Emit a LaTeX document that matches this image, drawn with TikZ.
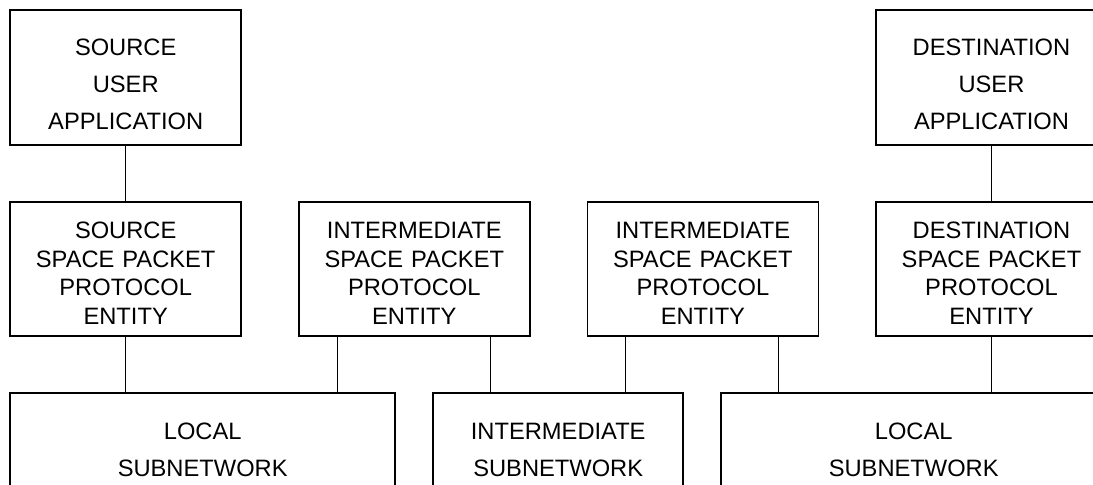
\documentclass[tikz,border=0pt]{standalone}
\usepackage{fontspec}
\setmainfont{Liberation Sans}
\usepackage{tikz}
\usetikzlibrary{positioning}

\begin{document}
\begin{tikzpicture}[auto,
block_app/.style ={rectangle, draw=black, line width=0.8pt, fill=white, text width=110pt, align=center, minimum width=115.5pt, minimum height=67.5pt, inner sep=0pt, text height=15.15pt, font=\fontsize{11.85pt}{18.5pt}\selectfont},
block_spp/.style ={rectangle, draw=black, line width=0.8pt, fill=white, text width=110pt, align=center, minimum width=115.5pt, minimum height=67pt, inner sep=0pt, text height=12.55pt, font=\fontsize{11.85pt}{14.25pt}\selectfont},
block_net/.style ={rectangle, draw=black, line width=0.8pt, fill=white, text width=110pt, align=center, minimum height=56.5pt, inner sep=0pt, font=\fontsize{11.85pt}{18.5pt}\selectfont},
line/.style ={draw, line width=0.5pt}]
  \useasboundingbox (0,0) rectangle (546.5pt,242.5pt);
  % the user applications and the packet protocol entities in a matrix
    \matrix [column sep=28pt, row sep=27.7pt, inner sep=0pt, matrix anchor=north west] at (4.5pt,238pt) {
     % user applications - row 1
      \node [block_app] (src_app) {SOURCE\\ USER\\ APPLICATION};
      & & &
      \node [block_app] (dst_app) {DESTINATION\\ USER\\ APPLICATION}; \\
     % protocol entities - row 2
      \node [block_spp] (src_spp) {SOURCE\\ SPACE PACKET\\ PROTOCOL\\ ENTITY};
      & \node [block_spp] (im1_spp) {INTERMEDIATE\\ SPACE PACKET\\ PROTOCOL\\ ENTITY};
      & \node [block_spp] (im2_spp) {INTERMEDIATE\\ SPACE PACKET\\ PROTOCOL\\ ENTITY};
      & \node [block_spp] (dst_spp) {DESTINATION\\ SPACE PACKET\\ PROTOCOL\\ ENTITY}; \\
    };% end matrix
  % subnetworks - row 3
    \node [block_net, minimum width=192.5pt, below right=27.7pt and 0pt of src_spp.south west] (src_net) {LOCAL\\ SUBNETWORK};
    \node [block_net, minimum width=125pt, right=18.2pt of src_net] (im_net) {INTERMEDIATE\\ SUBNETWORK};
    \node [block_net, minimum width=192.5pt, right=18.2pt of im_net] (dst_net) {LOCAL\\ SUBNETWORK};
  % connecting nodes with paths
    \begin{scope}[every path/.style=line]
      \path (src_app) -- (src_spp);
      \path (dst_app) -- (dst_spp);
      \path (src_spp) -- (src_spp |- src_net.north);
      \path ([xshift=-38.25pt]im1_spp.south) -- ([xshift=-38.25pt]im1_spp.south |- src_net.north);
      \path ([xshift=38.25pt]im1_spp.south)  -- ([xshift=38.25pt]im1_spp.south |- im_net.north);
      \path ([xshift=-38.5pt]im2_spp.south)  -- ([xshift=-38.5pt]im2_spp.south |- im_net.north);
      \path ([xshift=38pt]im2_spp.south)     -- ([xshift=38pt]im2_spp.south |- dst_net.north);
      \path (dst_spp) -- (dst_spp |- dst_net.north);
    \end{scope}
\end{tikzpicture}
\end{document}
